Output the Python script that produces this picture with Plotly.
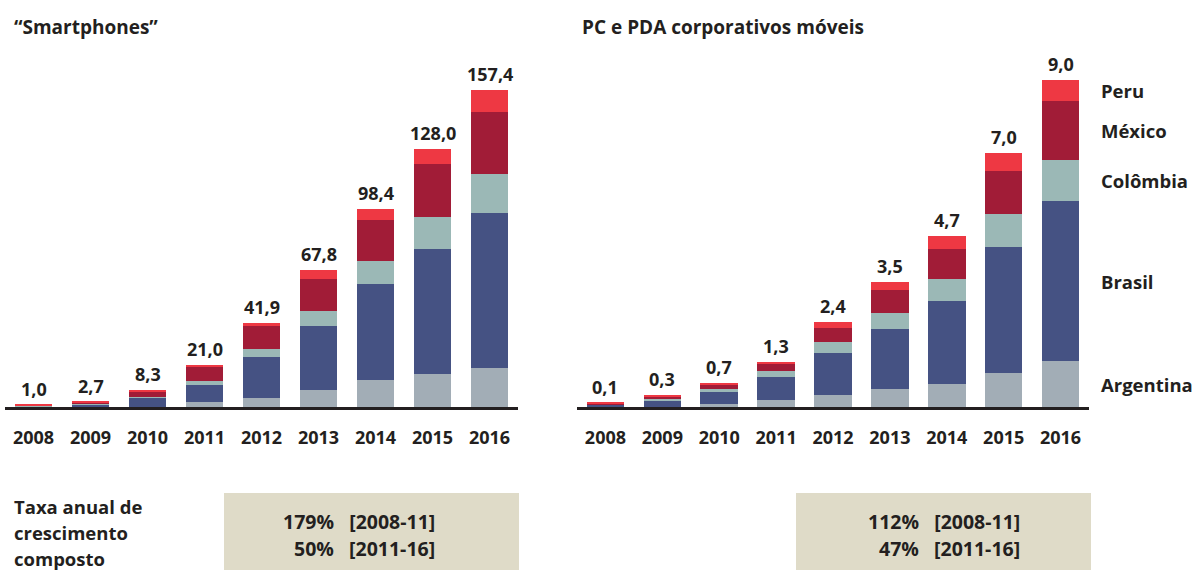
import plotly.graph_objects as go

# ---------------- data ----------------
years = ["2008", "2009", "2010", "2011", "2012", "2013", "2014", "2015", "2016"]
series_names = ["Argentina", "Brasil", "Colômbia", "México", "Peru"]

# "Smartphones"
smart_argentina = [0.05, 0.1, 0.1, 2.4, 4.3, 8.2, 13.3, 16.3, 19.2]
smart_brasil = [0.4, 1.3, 4.4, 8.5, 20.4, 31.8, 47.6, 62.0, 77.0]
smart_colombia = [0.05, 0.1, 0.4, 2.1, 3.9, 7.9, 11.5, 16.0, 19.4]
smart_mexico = [0.1, 0.6, 2.4, 6.9, 11.5, 15.9, 20.5, 26.5, 30.8]
smart_peru = [0.4, 0.6, 1.0, 1.1, 1.8, 4.0, 5.5, 7.2, 11.0]
smart_totals = [1.0, 2.7, 8.3, 21.0, 41.9, 67.8, 98.4, 128.0, 157.4]

# PC e PDA corporativos móveis
pc_argentina = [0.0, 0.01, 0.08, 0.19, 0.32, 0.49, 0.63, 0.93, 1.26]
pc_brasil = [0.08, 0.18, 0.33, 0.63, 1.18, 1.65, 2.30, 3.48, 4.40]
pc_colombia = [0.0, 0.05, 0.08, 0.17, 0.28, 0.44, 0.58, 0.91, 1.13]
pc_mexico = [0.01, 0.04, 0.11, 0.19, 0.39, 0.63, 0.83, 1.18, 1.63]
pc_peru = [0.03, 0.05, 0.06, 0.06, 0.17, 0.22, 0.36, 0.50, 0.58]
pc_totals = [0.1, 0.3, 0.7, 1.3, 2.4, 3.5, 4.7, 7.0, 9.0]

titles = ["\u201cSmartphones\u201d", "PC e PDA corporativos móveis"]
cagr_label = ["Taxa anual de", "crescimento", "composto"]
smart_cagr = [["179%", "[2008-11]"], ["50%", "[2011-16]"]]
pc_cagr = [["112%", "[2008-11]"], ["47%", "[2011-16]"]]

# ---------------- style ----------------
colors = ["#a2adb6", "#455283", "#9bb8b6", "#a11c37", "#ee3843"]
TXT = "#231f20"
FONT = "Open Sans"
W, H = 1195, 570

def px_x(p):
    return p / W

def px_y(p):
    return (H - p) / H

smart_series = [smart_argentina, smart_brasil, smart_colombia, smart_mexico, smart_peru]
pc_series = [pc_argentina, pc_brasil, pc_colombia, pc_mexico, pc_peru]

fig = go.Figure()
for name, vals, col in zip(series_names, smart_series, colors):
    fig.add_trace(go.Bar(x=years, y=vals, name=name, marker=dict(color=col, line=dict(width=0)),
                         xaxis="x", yaxis="y", showlegend=False, hoverinfo="skip"))
for name, vals, col in zip(series_names, pc_series, colors):
    fig.add_trace(go.Bar(x=years, y=vals, name=name, marker=dict(color=col, line=dict(width=0)),
                         xaxis="x2", yaxis="y2", showlegend=False, hoverinfo="skip"))

base_px = 407
top_px = 60
ydom = [px_y(base_px), px_y(top_px)]
plot_h = base_px - top_px
left_range = plot_h / 2.014
right_range = plot_h / 36.33

xaxis_common = dict(type="category", categoryorder="array", categoryarray=years,
                    range=[-0.5, len(years) - 0.5], autorange=False,
                    showline=True, linewidth=3, linecolor=TXT, ticks="",
                    showgrid=False, zeroline=False, fixedrange=True, ticklabelstandoff=12,
                    automargin=False,
                    tickfont=dict(family=FONT, size=18, color=TXT, weight="bold"))

fig.update_layout(
    width=W, height=H, margin=dict(l=0, r=0, t=0, b=0, pad=0, autoexpand=False),
    barmode="stack", bargap=0.34,
    plot_bgcolor="white", paper_bgcolor="white",
    xaxis=dict(domain=[px_x(5), px_x(518)], anchor="y", **xaxis_common),
    yaxis=dict(domain=ydom, range=[0, left_range], autorange=False, visible=False, fixedrange=True),
    xaxis2=dict(domain=[px_x(577), px_x(1089)], anchor="y2", **xaxis_common),
    yaxis2=dict(domain=ydom, range=[0, right_range], autorange=False, visible=False, anchor="x2",
                fixedrange=True),
)

def fmt(v):
    return f"{v:.1f}".replace(".", ",")

annotations = []
# totals above bars
for xa, ya, series, totals in (("x", "y", smart_series, smart_totals), ("x2", "y2", pc_series, pc_totals)):
    for i, yr in enumerate(years):
        top = sum(s[i] for s in series)
        annotations.append(dict(x=i, y=top, xref=xa, yref=ya, text=fmt(totals[i]), showarrow=False,
                                yanchor="bottom", yshift=2,
                                font=dict(family=FONT, size=18, color=TXT, weight="bold")))

# series labels next to the last PC bar
cum = 0
for name, s in zip(series_names, pc_series):
    mid = cum + s[-1] / 2
    cum += s[-1]
    annotations.append(dict(x=px_x(1099), y=mid, xref="paper", yref="y2", text=name, showarrow=False,
                            xanchor="left", yanchor="middle",
                            font=dict(family=FONT, size=18.5, color=TXT, weight="bold")))

# titles
for t, xp in zip(titles, (12, 580)):
    annotations.append(dict(x=px_x(xp), y=px_y(27), xref="paper", yref="paper", text=t, showarrow=False,
                            xanchor="left", yanchor="middle",
                            font=dict(family=FONT, size=19, color=TXT, weight="bold")))

# CAGR label
for line, yp in zip(cagr_label, (506, 532, 558)):
    annotations.append(dict(x=px_x(12), y=px_y(yp), xref="paper", yref="paper", text=line, showarrow=False,
                            xanchor="left", yanchor="middle",
                            font=dict(family=FONT, size=18.5, color=TXT, weight="bold")))

# CAGR boxes
shapes = []
for (x0, x1, right, rows) in ((224, 519, 437, smart_cagr), (796, 1091, 1022, pc_cagr)):
    shapes.append(dict(type="rect", xref="paper", yref="paper", x0=px_x(x0), x1=px_x(x1),
                       y0=0, y1=px_y(493), fillcolor="#dfdbc8", line=dict(width=0), layer="below"))
    for (pct, per), yp in zip(rows, (521, 548)):
        annotations.append(dict(x=px_x(right), y=px_y(yp), xref="paper", yref="paper",
                                text=pct + "\u00a0\u00a0\u00a0" + per, showarrow=False,
                                xanchor="right", yanchor="middle", align="right",
                                font=dict(family=FONT, size=19.5, color=TXT, weight="bold")))

fig.update_layout(annotations=annotations, shapes=shapes)

fig.write_html("out.html", config={"displayModeBar": False},
               post_script="document.body.style.margin='0';")
